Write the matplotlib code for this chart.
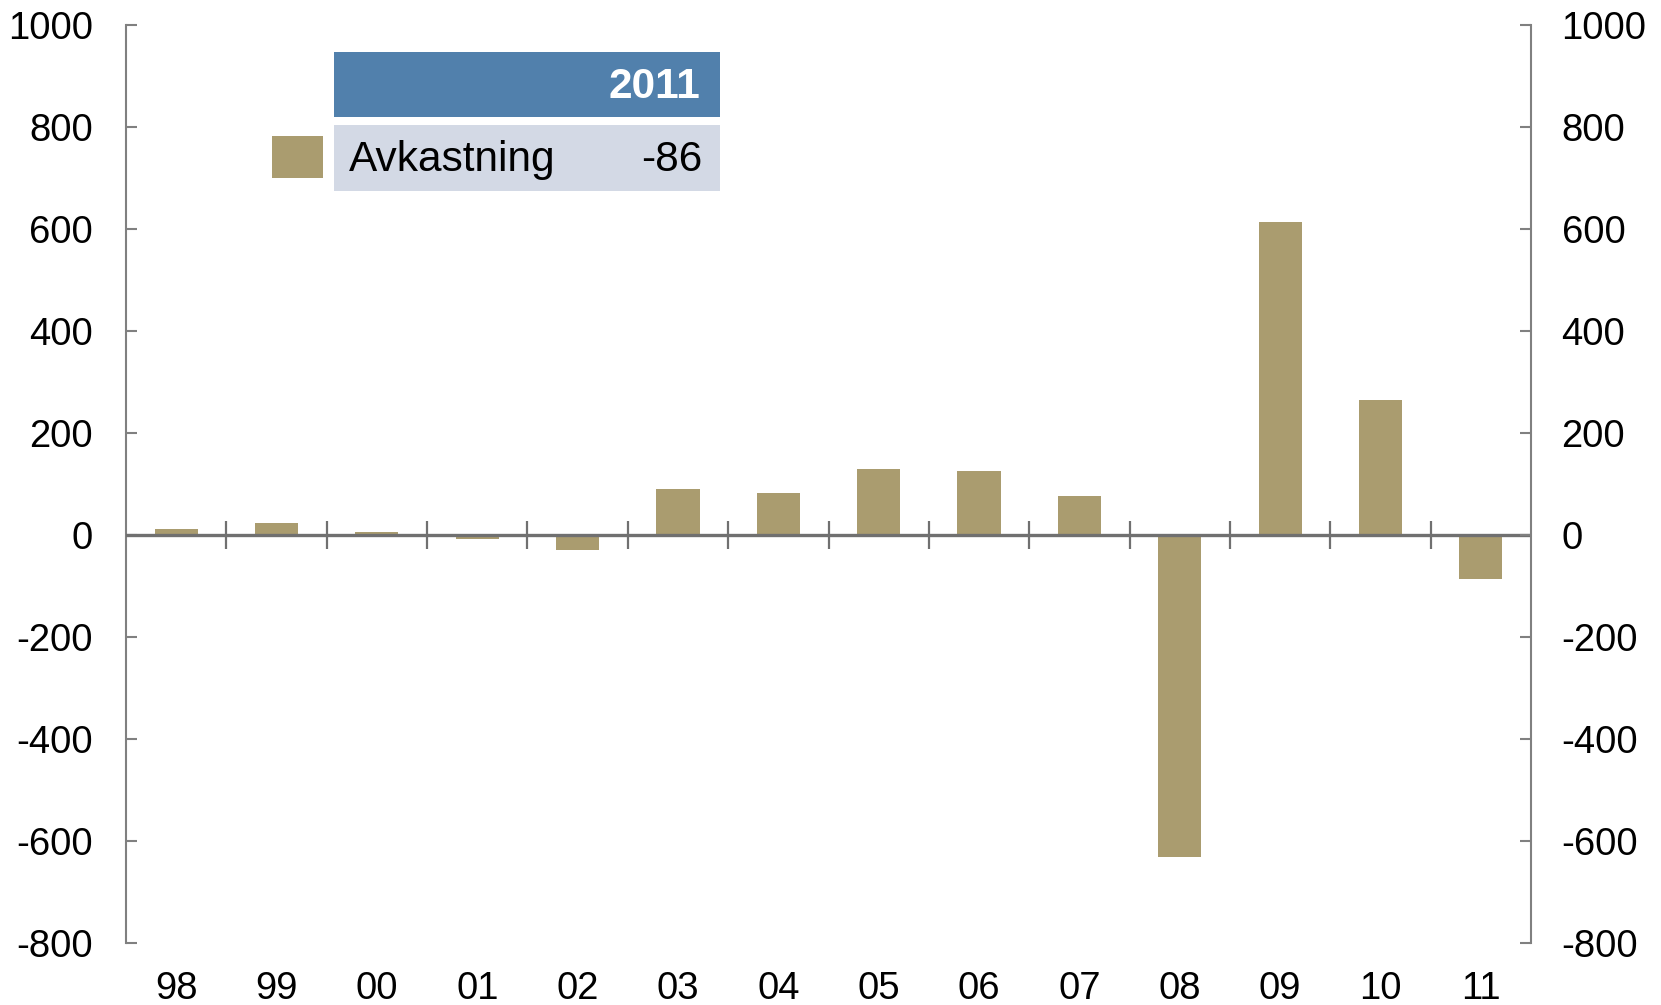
import matplotlib
matplotlib.use("Agg")
import matplotlib.pyplot as plt
from matplotlib.patches import Rectangle
import numpy as np

plt.rcParams['font.family'] = ['Liberation Sans', 'DejaVu Sans']

categories = ["98", "99", "00", "01", "02", "03", "04", "05", "06", "07", "08", "09", "10", "11"]
values = [12, 23, 6, -8, -29, 91, 83, 129, 125, 77, -632, 613, 264, -86]
yticks = [-800, -600, -400, -200, 0, 200, 400, 600, 800, 1000]
legend_label = "Avkastning"
legend_year = "2011"
legend_value = "-86"

bar_color = "#AA9C6F"
axis_color = "#808080"
zero_color = "#707070"
tick_fs = 27.5
leg_fs = 30.5

W, H = 1661, 1005
fig = plt.figure(figsize=(W / 100, H / 100), dpi=100)
ax = fig.add_axes([126 / W, 1 - 943 / H, (1531 - 126) / W, (943 - 25) / H])

x = np.arange(len(categories))
ax.bar(x, values, width=0.43, color=bar_color, zorder=3)
ax.set_xlim(-0.5, len(categories) - 0.5)
ax.set_ylim(-800, 1000)

# zero line and boundary ticks
ax.axhline(0, color=zero_color, lw=2.4, zorder=4)
bounds = np.arange(0.5, len(categories) - 0.5, 1.0)
ax.plot(bounds, np.zeros_like(bounds), linestyle='none', marker='|', markersize=20,
        markeredgewidth=1.6, color=zero_color, zorder=4)

for s in ['top', 'bottom', 'right']:
    ax.spines[s].set_visible(False)
ax.spines['left'].set_color(axis_color)
ax.spines['left'].set_linewidth(1.5)

ax.set_yticks(yticks)
ax.set_yticklabels([str(v) for v in yticks])
ax.tick_params(axis='y', direction='in', length=8, width=1.5, color=axis_color,
               labelsize=tick_fs, pad=24)
ax.set_xticks(x)
ax.set_xticklabels(categories)
ax.tick_params(axis='x', length=0, labelsize=tick_fs, pad=20)

ax2 = ax.twinx()
ax2.set_ylim(-800, 1000)
for s in ['top', 'bottom', 'left']:
    ax2.spines[s].set_visible(False)
ax2.spines['right'].set_color(axis_color)
ax2.spines['right'].set_linewidth(1.5)
ax2.set_yticks(yticks)
ax2.set_yticklabels([str(v) for v in yticks])
ax2.tick_params(axis='y', direction='in', length=8, width=1.5, color=axis_color,
                labelsize=tick_fs, pad=22)

# legend table
def fx(px):
    return px / W

def fy(py):
    return 1 - py / H

fig.add_artist(Rectangle((fx(334), fy(117)), fx(720) - fx(334), fy(52) - fy(117),
                         transform=fig.transFigure, facecolor="#5180AC", edgecolor='none'))
fig.add_artist(Rectangle((fx(334), fy(191)), fx(720) - fx(334), fy(125) - fy(191),
                         transform=fig.transFigure, facecolor="#D3D9E5", edgecolor='none'))
fig.add_artist(Rectangle((fx(272), fy(178)), fx(323) - fx(272), fy(136) - fy(178),
                         transform=fig.transFigure, facecolor=bar_color, edgecolor='none'))
fig.text(fx(700), fy(87), legend_year, color='white', fontsize=leg_fs, fontweight='bold',
         ha='right', va='center')
fig.text(fx(349), fy(160), legend_label, color='black', fontsize=leg_fs, ha='left', va='center')
fig.text(fx(702), fy(160), legend_value, color='black', fontsize=leg_fs, ha='right', va='center')

fig.savefig("out.png", dpi=100)
